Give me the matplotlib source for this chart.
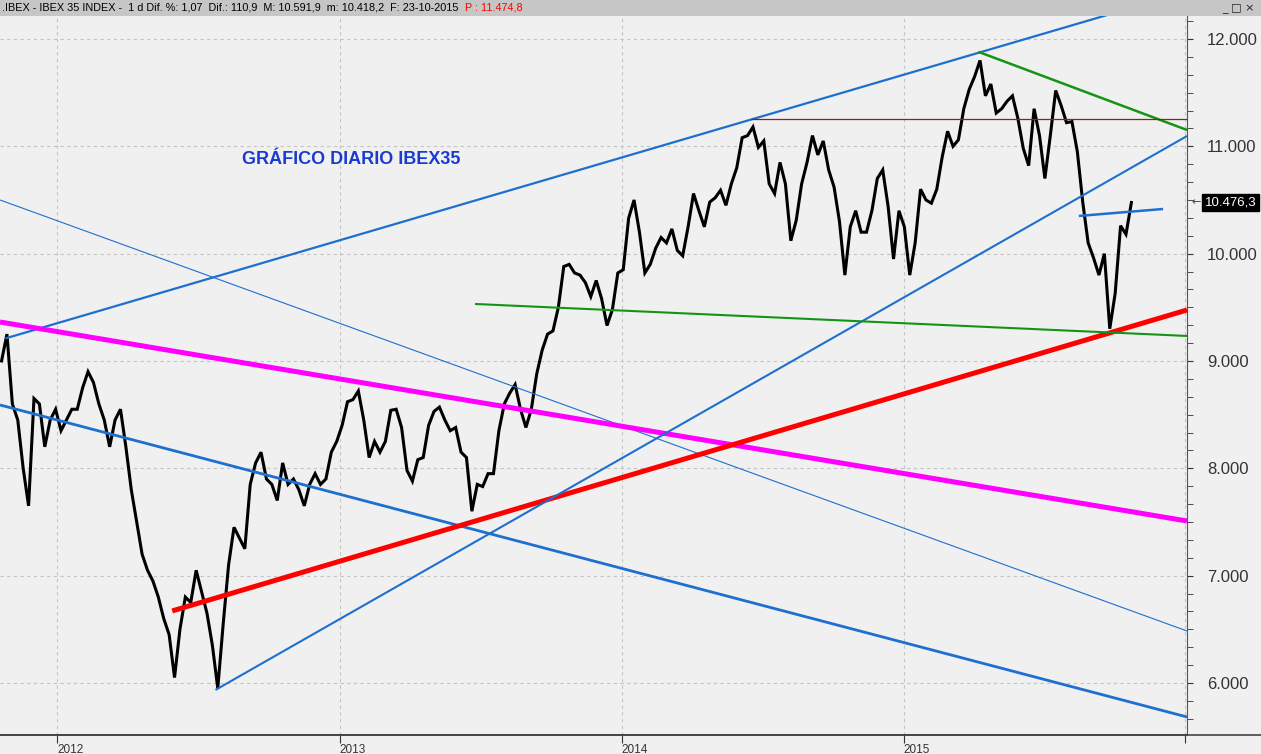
import numpy as np
import pandas as pd
import matplotlib
matplotlib.use('Agg')
import matplotlib.pyplot as plt
from matplotlib.patches import Rectangle
from matplotlib.lines import Line2D
from matplotlib.ticker import MultipleLocator, FuncFormatter
from matplotlib import font_manager

# cierres semanales IBEX 35 (viernes)
first_week = '2011-10-21'
closes = [
    9000, 9250, 8600, 8450, 8000, 7650, 8650, 8600, 8200, 8450,
    8550, 8350, 8450, 8550, 8550, 8750, 8900, 8800, 8600, 8450,
    8200, 8450, 8550, 8200, 7800, 7500, 7200, 7050, 6950, 6800,
    6600, 6450, 6050, 6500, 6800, 6750, 7050, 6850, 6650, 6350,
    5950, 6550, 7100, 7450, 7350, 7250, 7850, 8050, 8150, 7900,
    7850, 7700, 8050, 7850, 7900, 7800, 7650, 7850, 7950, 7850,
    7900, 8150, 8250, 8400, 8620, 8640, 8720, 8450, 8100, 8250,
    8150, 8250, 8540, 8550, 8380, 7980, 7880, 8080, 8100, 8400,
    8530, 8570, 8450, 8350, 8380, 8150, 8100, 7600, 7850, 7830,
    7950, 7950, 8350, 8600, 8700, 8780, 8550, 8380, 8550, 8880,
    9100, 9250, 9280, 9500, 9880, 9900, 9820, 9800, 9730, 9600,
    9750, 9580, 9330, 9480, 9820, 9850, 10330, 10500, 10200, 9820,
    9900, 10050, 10150, 10100, 10230, 10030, 9980, 10250, 10560, 10400,
    10250, 10480, 10520, 10590, 10450, 10650, 10800, 11080, 11100, 11180,
    10990, 11050, 10650, 10560, 10850, 10650, 10120, 10310, 10650, 10850,
    11100, 10920, 11050, 10780, 10620, 10300, 9800, 10250, 10400, 10200,
    10200, 10400, 10700, 10780, 10440, 9950, 10400, 10250, 9800, 10100,
    10600, 10500, 10470, 10600, 10900, 11140, 11000, 11060, 11350, 11530,
    11650, 11800, 11470, 11580, 11310, 11350, 11420, 11470, 11260, 10980,
    10820, 11350, 11100, 10700, 11100, 11520, 11380, 11220, 11230, 10950,
    10480, 10100, 9960, 9800, 10000, 9300, 9630, 10260, 10180, 10476.3,
]

# lineas de tendencia (inicio / fin)
tl_start_dates = ['2011-10-26', '2011-10-19', '2011-10-19', '2011-10-19', '2012-05-29',
                  '2012-07-24', '2015-04-08', '2013-06-25', '2014-06-18', '2015-08-16']
tl_start_vals = [9210, 8590, 10500, 9363, 6671, 5935, 11880, 9531, 11255, 10351]
tl_end_dates = ['2015-09-22', '2016-01-03', '2016-01-03', '2016-01-03', '2016-01-03',
                '2016-01-03', '2016-01-03', '2016-01-03', '2016-01-03', '2015-12-03']
tl_end_vals = [12224, 5683, 6484, 7509, 9475, 11096, 11152, 9233, 11255, 10416]

tl_colors = ['#1e6fcf', '#1e6fcf', '#1e6fcf', '#ff00ff', '#ff0000',
             '#1e6fcf', '#149414', '#149414', '#a01818', '#1e6fcf']
tl_widths = [1.6, 2.0, 0.8, 3.6, 3.6, 1.5, 1.8, 1.5, 0.9, 1.8]

year_ticks = ['2012-01-01', '2013-01-01', '2014-01-01', '2015-01-01', '2016-01-01']
year_labels = ['2012', '2013', '2014', '2015', '']

header = '.IBEX - IBEX 35 INDEX -  1 d Dif. %: 1,07  Dif.: 110,9  M: 10.591,9  m: 10.418,2  F: 23-10-2015'
header_p = 'P : 11.474,8'
title = 'GRÁFICO DIARIO IBEX35'

plt.rcParams['font.family'] = ['Liberation Sans', 'DejaVu Sans']

W, H = 1261, 754
fig = plt.figure(figsize=(W / 100, H / 100), dpi=100)
fig.patch.set_facecolor('#f0f0f0')
ax = fig.add_axes([0, 19 / H, 1187 / W, 719 / H])
ax.set_facecolor('#f0f0f0')

dates = pd.date_range(first_week, periods=len(closes), freq='W-FRI')
ax.plot(dates, closes, color='black', lw=2.2, zorder=2, solid_joinstyle='miter')

for i in range(len(tl_start_dates)):
    ax.plot([pd.Timestamp(tl_start_dates[i]), pd.Timestamp(tl_end_dates[i])],
            [tl_start_vals[i], tl_end_vals[i]],
            color=tl_colors[i], lw=tl_widths[i], zorder=3, solid_capstyle='butt')

ax.set_xlim(pd.Timestamp('2011-10-19'), pd.Timestamp('2016-01-03'))
ax.set_ylim(5515, 12214)

# eje derecho
ax.yaxis.tick_right()
ax.yaxis.set_major_locator(MultipleLocator(1000))
ax.yaxis.set_minor_locator(MultipleLocator(1000 / 6))
ax.yaxis.set_major_formatter(FuncFormatter(lambda v, p: f'{v:,.0f}'.replace(',', '.')))
ax.tick_params(axis='y', which='major', length=4.5, pad=10, labelsize=12, colors='#333333')
ax.tick_params(axis='y', which='minor', length=4, colors='#333333')

ax.set_xticks([pd.Timestamp(d) for d in year_ticks])
ax.set_xticklabels(year_labels)
ax.tick_params(axis='x', length=6, pad=0.5, labelsize=8.5, colors='#333333')
for lbl in ax.get_xticklabels():
    lbl.set_ha('left')

ax.grid(True, which='major', ls=(0, (3, 3)), color='#c4c4c4', lw=0.8)
for s in ['left', 'top']:
    ax.spines[s].set_visible(False)
ax.spines['right'].set_color('#555555')
ax.spines['bottom'].set_color('#444444')
ax.spines['bottom'].set_linewidth(1.2)

ax.text(0.204, 0.80, title, transform=ax.transAxes, color='#1a3bd2',
        fontsize=13, fontweight='bold', va='center')

# linea inferior en todo el ancho
fig.add_artist(Line2D([0, 1], [19 / H, 19 / H], color='#444444', lw=1.2))

# barra de cabecera
fig.add_artist(Rectangle((0, 1 - 16 / H), 1, 16 / H, transform=fig.transFigure,
                         facecolor='#c6c6c6', edgecolor='none'))
t_head = fig.text(2 / W, 1 - 8 / H, header, fontsize=7.8, va='center')
renderer = fig.canvas.get_renderer()
x_end = t_head.get_window_extent(renderer).x1
fig.text((x_end + 6) / W, 1 - 8 / H, header_p, fontsize=7.8, va='center', color='#ff0000')
fig.text(1222 / W, 1 - 8 / H, '_ □ ×', fontsize=8, va='center', color='#222222',
         family='DejaVu Sans')

# etiqueta ultimo precio
last = f'{closes[-1]:,.1f}'.replace(',', 'X').replace('.', ',').replace('X', '.')
y_last = ax.transData.transform((0, closes[-1]))[1] / H
fig.text(1205 / W, y_last, last, fontsize=9.5, va='center', ha='left', color='white',
         bbox=dict(boxstyle='square,pad=0.2', fc='black', ec='black'))
fig.text(1191 / W, y_last, '←', fontsize=8, va='center', color='#444444', family='DejaVu Sans')

fig.savefig('out.png', dpi=100, facecolor=fig.get_facecolor())
